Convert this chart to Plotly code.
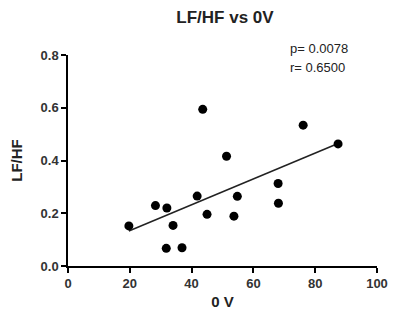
import numpy as np
import plotly.graph_objects as go

ov = [19.7, 28.3, 32.0, 31.8, 34.0, 36.9, 41.8, 43.6, 45.0, 51.3, 53.7, 54.8, 68.0, 68.1, 76.1, 87.4]
lfhf = [0.152, 0.229, 0.220, 0.067, 0.154, 0.069, 0.265, 0.594, 0.196, 0.416, 0.189, 0.264, 0.313, 0.238, 0.534, 0.463]
x_ticks = [0, 20, 40, 60, 80, 100]
y_ticks = [0.0, 0.2, 0.4, 0.6, 0.8]
stats_lines = ["p= 0.0078", "r= 0.6500"]

slope, intercept = np.polyfit(ov, lfhf, 1)
xl = [min(ov), max(ov)]
yl = [slope * v + intercept for v in xl]

font = "Liberation Sans, Arial, sans-serif"
ML, MR, MT, MB = 68, 13, 55, 58
plot_w, plot_h = 400 - ML - MR, 324 - MT - MB

ann = []
for txt, py in zip(stats_lines, [48, 67]):
    ann.append(dict(text=txt, x=(295 - ML) / plot_w, y=(324 - MB - py) / plot_h, xref="paper", yref="paper",
                    xanchor="left", yanchor="middle", showarrow=False,
                    font=dict(family=font, size=13, color="#222")))

fig = go.Figure()
fig.add_trace(go.Scatter(x=xl, y=yl, mode="lines", line=dict(color="#222", width=1.5), hoverinfo="skip"))
fig.add_trace(go.Scatter(x=ov, y=lfhf, mode="markers", marker=dict(color="black", size=9)))

axis_common = dict(showgrid=False, zeroline=False, showline=True, linecolor="black", linewidth=1.5,
                   ticks="outside", ticklen=5, tickwidth=1.5, tickcolor="black",
                   tickfont=dict(family=font, size=13, color="#333"))
fig.update_layout(
    width=400, height=324, margin=dict(l=ML, r=MR, t=MT, b=MB),
    paper_bgcolor="white", plot_bgcolor="white", showlegend=False,
    title=dict(text="<b>LF/HF vs 0V</b>", x=0.5625, xanchor="center", y=0.947, yanchor="middle",
               font=dict(family=font, size=17, color="#222")),
    xaxis=dict(range=[0, 100], tickvals=x_ticks, ticktext=[f"<b>{v}</b>" for v in x_ticks],
               title=dict(text="<b>0 V</b>", font=dict(family=font, size=15, color="#222"), standoff=6),
               **axis_common),
    yaxis=dict(range=[0, 0.8], tickvals=y_ticks, ticktext=[f"<b>{v:.1f}</b>" for v in y_ticks],
               title=dict(text="<b>LF/HF</b>", font=dict(family=font, size=15, color="#222"), standoff=14),
               **axis_common),
    annotations=ann,
)
fig.write_html("out.html")
